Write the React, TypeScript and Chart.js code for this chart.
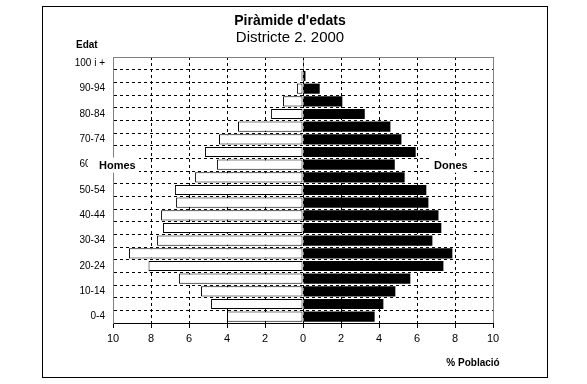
import React, { useEffect, useRef } from "react";
import { Chart, registerables } from "chart.js";

Chart.register(...registerables);

const ageGroups = [
  "0-4", "5-9", "10-14", "15-19", "20-24", "25-29", "30-34", "35-39", "40-44", "45-49",
  "50-54", "55-59", "60-64", "65-69", "70-74", "75-79", "80-84", "85-89", "90-94", "95-99", "100 i +",
];
const menPct = [
  4.0, 4.84, 5.37, 6.53, 8.13, 9.16, 7.68, 7.37, 7.47, 6.68,
  6.74, 5.68, 4.53, 5.16, 4.42, 3.42, 1.68, 1.05, 0.32, 0.08, 0.02,
];
const womenPct = [
  3.77, 4.23, 4.86, 5.65, 7.39, 7.86, 6.81, 7.28, 7.13, 6.6,
  6.49, 5.35, 4.83, 5.93, 5.18, 4.6, 3.25, 2.07, 0.88, 0.13, 0.05,
];
const titleText = "Piràmide d'edats";
const subtitleText = "Districte 2. 2000";
const yAxisTitle = "Edat";
const xAxisTitle = "% Població";
const menLabel = "Homes";
const womenLabel = "Dones";

const FONT = "'Liberation Sans', Arial, sans-serif";

const decorPlugin = {
  id: "decor",
  afterDraw(chart: any) {
    const ctx = chart.ctx;
    const area = chart.chartArea;
    const yScale = chart.scales.y;
    ctx.save();
    // outer frame
    ctx.strokeStyle = "#000";
    ctx.lineWidth = 1;
    ctx.strokeRect(42.5, 6.5, 505, 371);
    // top & right plot borders (gray)
    ctx.strokeStyle = "#808080";
    ctx.beginPath();
    ctx.moveTo(Math.round(area.left) + 0.5, Math.round(area.top) + 0.5);
    ctx.lineTo(Math.round(area.right) + 0.5, Math.round(area.top) + 0.5);
    ctx.lineTo(Math.round(area.right) + 0.5, Math.round(area.bottom));
    ctx.stroke();

    ctx.fillStyle = "#000";
    ctx.textBaseline = "middle";
    // title
    ctx.textAlign = "center";
    ctx.font = `bold 14px ${FONT}`;
    ctx.fillText(titleText, 290, 21);
    ctx.font = `15px ${FONT}`;
    ctx.fillText(subtitleText, 290, 38);
    // Edat
    ctx.textAlign = "left";
    ctx.font = `bold 10px ${FONT}`;
    ctx.fillText(yAxisTitle, 76, 45);
    // % Població
    ctx.textAlign = "center";
    ctx.fillText(xAxisTitle, 473, 363);

    // Homes / Dones labels with white boxes
    const yRow = yScale.getPixelForValue(12);
    ctx.font = `bold 11px ${FONT}`;
    ctx.fillStyle = "#fff";
    ctx.fillRect(88, yRow - 7, 51, 15);
    ctx.fillRect(430, yRow - 7, 44, 15);
    ctx.fillStyle = "#000";
    ctx.textAlign = "left";
    ctx.fillText(menLabel, 99, yRow + 1);
    ctx.fillText(womenLabel, 434, yRow + 1);
    ctx.restore();
  },
};

export default function App() {
  const ref = useRef<HTMLCanvasElement | null>(null);

  useEffect(() => {
    const canvas = ref.current;
    if (!canvas) return;
    const chart = new Chart(canvas, {
      type: "bar",
      data: {
        labels: ageGroups,
        datasets: [
          {
            label: menLabel,
            data: menPct.map((v) => -v),
            backgroundColor: "#ffffff",
            borderColor: "#000000",
            borderWidth: 1,
            borderSkipped: false,
            barPercentage: 0.8,
            categoryPercentage: 1,
          },
          {
            label: womenLabel,
            data: womenPct,
            backgroundColor: "#000000",
            borderColor: "#000000",
            borderWidth: 0,
            barPercentage: 0.8,
            categoryPercentage: 1,
          },
        ],
      },
      options: {
        indexAxis: "y",
        responsive: false,
        animation: false,
        devicePixelRatio: 1,
        layout: { padding: { left: 0, top: 57, right: 94, bottom: 0 } },
        plugins: {
          legend: { display: false },
          title: { display: false },
          tooltip: { enabled: false },
        },
        scales: {
          x: {
            type: "linear",
            stacked: true,
            min: -10,
            max: 10,
            afterFit: (scale: any) => {
              scale.height = 61;
            },
            ticks: {
              stepSize: 2,
              color: "#000",
              font: { family: FONT, size: 11 },
              padding: 4,
              callback: (v: any) => String(Math.abs(Number(v))),
            },
            grid: {
              color: "#000",
              lineWidth: 1,
              drawTicks: true,
              tickLength: 5,
              tickColor: "#000",
              tickBorderDash: [],
            },
            border: { display: true, color: "#000", width: 1, dash: [3, 3] },
          },
          y: {
            type: "category",
            stacked: true,
            reverse: true,
            afterFit: (scale: any) => {
              scale.width = 113;
            },
            ticks: {
              autoSkip: false,
              color: "#000",
              font: { family: FONT, size: 10 },
              padding: 8,
              callback: function (this: any, _v: any, i: number) {
                return i % 2 === 0 ? ageGroups[i] : "";
              },
            },
            grid: {
              offset: true,
              color: "#000",
              lineWidth: 1,
              drawTicks: false,
            },
            border: { display: true, color: "#808080", width: 1, dash: [3, 3] },
          },
        },
      },
      plugins: [decorPlugin],
    });
    return () => chart.destroy();
  }, []);

  return (
    <div style={{ position: "fixed", left: 0, top: 0, width: 587, height: 384, background: "#fff" }}>
      <canvas ref={ref} width={587} height={384} style={{ display: "block" }} />
    </div>
  );
}
